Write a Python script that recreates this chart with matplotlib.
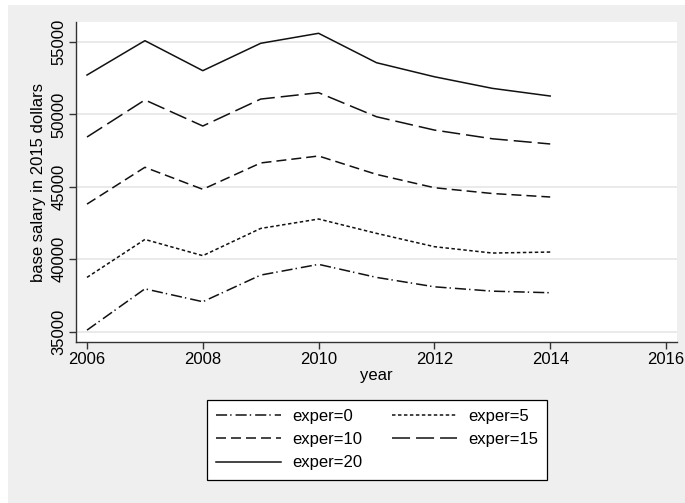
import matplotlib
matplotlib.use("Agg")
import matplotlib.pyplot as plt
from matplotlib.patches import Rectangle

plt.rcParams['font.family'] = ['Liberation Sans', 'DejaVu Sans']
plt.rcParams['lines.scale_dashes'] = False

# data
years = [2006, 2007, 2008, 2009, 2010, 2011, 2012, 2013, 2014]
exper0 = [35110, 37960, 37070, 38910, 39650, 38750, 38100, 37800, 37690]
exper5 = [38750, 41370, 40250, 42130, 42780, 41790, 40870, 40430, 40500]
exper10 = [43810, 46350, 44830, 46650, 47130, 45860, 44940, 44540, 44300]
exper15 = [48440, 51000, 49200, 51060, 51500, 49840, 48920, 48320, 47960]
exper20 = [52720, 55090, 53020, 54910, 55600, 53570, 52600, 51800, 51270]
labels = ['exper=0', 'exper=5', 'exper=10', 'exper=15', 'exper=20']

xticks = [2006, 2008, 2010, 2012, 2014, 2016]
yticks = [35000, 40000, 45000, 50000, 55000]

fs = 12

fig = plt.figure(figsize=(6.85, 5.03), dpi=100, facecolor='white')
# grey Stata-like background (thin white strip on top/left)
fig.patches.append(Rectangle((8 / 685, 0), 1 - 8 / 685, 1 - 5 / 503,
                             transform=fig.transFigure, facecolor='#efefef',
                             edgecolor='none', zorder=-10))

ax = fig.add_axes([76 / 685, 1 - 342 / 503, 601 / 685, 320 / 503])
ax.set_facecolor('white')

lc = '#111111'
h0, = ax.plot(years, exper0, color=lc, lw=1.1, dashes=(8, 2.2, 1, 2.9), label=labels[0])
h5, = ax.plot(years, exper5, color=lc, lw=1.1, dashes=(2.5, 1.8), label=labels[1])
h10, = ax.plot(years, exper10, color=lc, lw=1.1, dashes=(7.2, 3.6), label=labels[2])
h15, = ax.plot(years, exper15, color=lc, lw=1.1, dashes=(13, 4.3), label=labels[3])
h20, = ax.plot(years, exper20, color=lc, lw=1.1, label=labels[4])

ax.set_xlim(2005.81, 2016.19)
ax.set_ylim(34290, 56380)
ax.set_xticks(xticks)
ax.set_yticks(yticks)
ax.set_yticklabels([str(v) for v in yticks], rotation=90, va='center')
ax.grid(axis='y', color='#e6e6e6', lw=1.2)
ax.set_axisbelow(True)

for s in ['top', 'right']:
    ax.spines[s].set_visible(False)
for s in ['left', 'bottom']:
    ax.spines[s].set_color('#333333')
    ax.spines[s].set_linewidth(1.0)
ax.tick_params(axis='both', colors='#333333', labelcolor='black', length=5,
               width=1.0, labelsize=fs, pad=2)

ax.set_xlabel('year', fontsize=fs, labelpad=1)
ax.set_ylabel('base salary in 2015 dollars', fontsize=fs, labelpad=4)

# legend filled row by row like Stata
order = [h0, h10, h20, h5, h15]
leg = fig.legend(order, [h.get_label() for h in order],
                 loc='center', bbox_to_anchor=(377 / 685, 1 - 439.5 / 503),
                 ncol=2, fontsize=fs, frameon=True, fancybox=False,
                 handlelength=3.9, handletextpad=0.7, columnspacing=1.75,
                 labelspacing=0.5, borderpad=0.55)
leg.get_frame().set_edgecolor('black')
leg.get_frame().set_linewidth(0.9)
leg.get_frame().set_facecolor('white')
leg.get_frame().set_alpha(1)

fig.savefig('out.png', dpi=100, facecolor=fig.get_facecolor())
